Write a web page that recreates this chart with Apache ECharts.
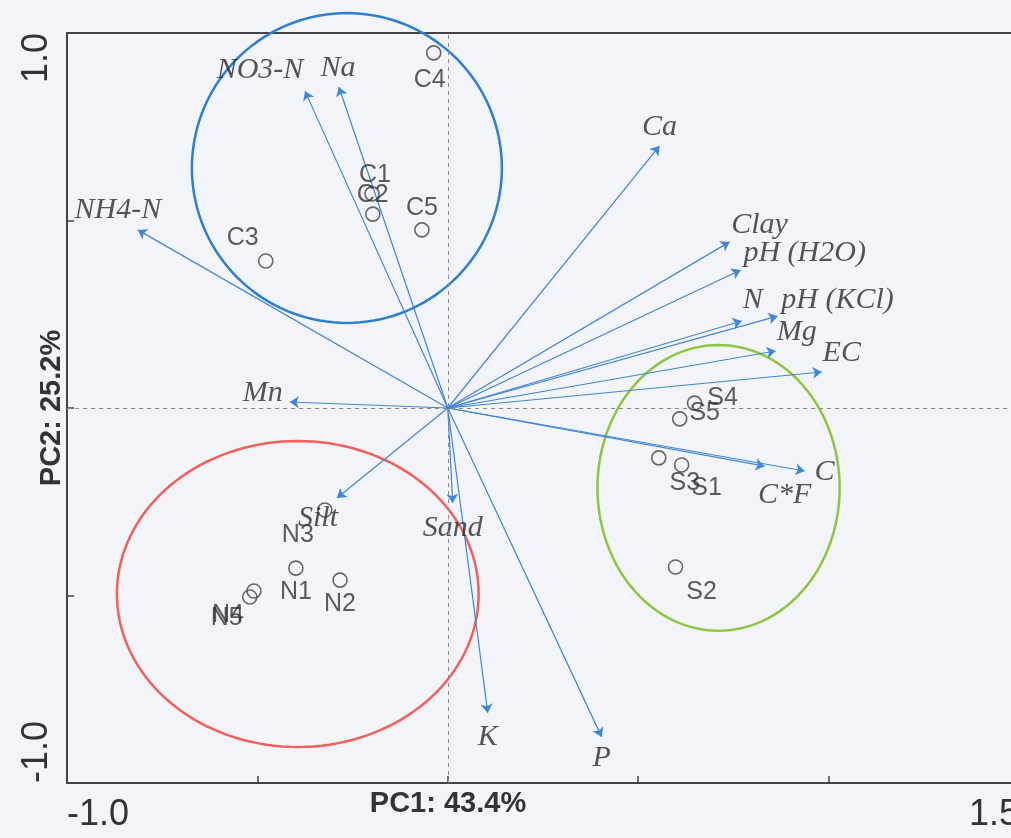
<!DOCTYPE html>
<html><head><meta charset="utf-8">
<script src="https://cdn.jsdelivr.net/npm/echarts@6/dist/echarts.min.js"></script>
<style>html,body{margin:0;padding:0;background:#f2f4f9;} #chart{width:1011px;height:838px;}</style>
</head><body><div id="chart"></div>
<script>
// ---- data ----
const sampleNames = ['C1','C2','C3','C4','C5','S1','S2','S3','S4','S5','N1','N2','N3','N4','N5'];
const samplePC1 = [-0.199,-0.197,-0.478,-0.037,-0.068,0.614,0.598,0.554,0.648,0.609,-0.399,-0.283,-0.323,-0.509,-0.520];
const samplePC2 = [0.571,0.517,0.392,0.947,0.475,-0.152,-0.424,-0.133,0.013,-0.029,-0.427,-0.459,-0.272,-0.488,-0.504];

const varNames = ['NO3-N','Na','NH4-N','Ca','Clay','pH (H2O)','N','pH (KCl)','Mg','EC','C','C*F','Mn','Silt','Sand','K','P'];
const varPC1 = [-0.375,-0.286,-0.814,0.556,0.740,0.769,0.772,0.866,0.861,0.982,0.937,0.832,-0.415,-0.291,0.013,0.105,0.404];
const varPC2 = [0.845,0.856,0.475,0.699,0.443,0.368,0.232,0.245,0.152,0.096,-0.168,-0.155,0.016,-0.240,-0.253,-0.813,-0.877];

const groupNames = ['C','N','S'];
const groupCX = [-0.265,-0.394,0.711];
const groupCY = [0.640,-0.496,-0.213];
const groupRX = [0.407,0.475,0.318];
const groupRY = [0.413,0.408,0.381];

const xTickLabels = ['-1.0','1.5'];
const yTickLabels = ['-1.0','1.0'];
const xAxisTitle = 'PC1: 43.4%';
const yAxisTitle = 'PC2: 25.2%';

// ---- styling (label offsets in px) ----
const sampleLabelOffset = {C1:[3,-19],C2:[0,-19],C3:[-23,-23],C4:[-4,27],C5:[0,-22],
  S1:[25,23],S2:[26,25],S3:[26,25],S4:[28,-5],S5:[25,-6],
  N1:[0,24],N2:[0,24],N3:[-27,25],N4:[-26,24],N5:[-23,21]};
const varLabelOffset = {'NO3-N':[-45,-21],'Na':[-1,-19],'NH4-N':[-20,-20],'Ca':[0,-19],'Clay':[30,-17],
  'pH (H2O)':[64,-17],'N':[11,-21],'pH (KCl)':[60,-16],'Mg':[21,-19],'EC':[20,-19],'C':[20,1],
  'C*F':[20,29],'Mn':[-27,-9],'Silt':[-19,20],'Sand':[0,25],'K':[0,24],'P':[0,21]};
const groupColors = {C:'#2e7fd4', N:'#f2605a', S:'#8dc63f'};

const chart = echarts.init(document.getElementById('chart'), null, {renderer:'canvas'});

const option = {
  backgroundColor:'#f2f4f9',
  animation:false,
  grid:{left:67, top:33, width:952, height:750, show:true, borderColor:'#444', borderWidth:2,
    backgroundColor:'transparent', containLabel:false, outerBoundsMode:'none'},
  xAxis:{type:'value', min:-1, max:1.5, interval:0.5,
    axisLine:{show:true, onZero:false, lineStyle:{color:'#444', width:2}},
    axisTick:{show:true, inside:true, length:7, lineStyle:{color:'#444', width:1.5}},
    splitLine:{show:false},
    axisLabel:{fontSize:36, color:'#333', fontFamily:'Liberation Sans, Arial', margin:14,
      alignMinLabel:'left', alignMaxLabel:'right',
      formatter:v=>{const s=v.toFixed(1); return xTickLabels.includes(s)?s:'';}},
    name:xAxisTitle, nameLocation:'middle', nameGap:6, nameMoveOverlap:false,
    nameTextStyle:{fontSize:29, fontWeight:'bold', color:'#333', fontFamily:'Liberation Sans, Arial',
      verticalAlign:'top', padding:[0,190,0,0]}
  },
  yAxis:{type:'value', min:-1, max:1, interval:0.5,
    axisLine:{show:true, onZero:false, lineStyle:{color:'#444', width:2}},
    axisTick:{show:true, inside:true, length:7, lineStyle:{color:'#444', width:1.5}},
    splitLine:{show:false},
    axisLabel:{fontSize:36, color:'#333', fontFamily:'Liberation Sans, Arial', margin:12, rotate:90,
      alignMinLabel:'left', alignMaxLabel:'right',
      formatter:v=>{const s=v.toFixed(1); return yTickLabels.includes(s)?s:'';}},
    name:yAxisTitle, nameLocation:'middle', nameGap:1, nameRotate:90, nameMoveOverlap:false,
    nameTextStyle:{fontSize:29, fontWeight:'bold', color:'#333', fontFamily:'Liberation Sans, Arial'}
  },
  series:[
    {type:'custom', name:'groups', clip:false, silent:true,
      data:groupNames.map((g,i)=>[groupCX[i],groupCY[i],groupRX[i],groupRY[i]]),
      encode:{x:0,y:1},
      renderItem:(params, api)=>{
        const cx=api.value(0), cy=api.value(1), rx=api.value(2), ry=api.value(3);
        const pts=[];
        for(let k=0;k<=144;k++){const t=k/144*2*Math.PI; pts.push(api.coord([cx+rx*Math.cos(t), cy+ry*Math.sin(t)]));}
        return {type:'polygon', shape:{points:pts}, style:{fill:null, stroke:groupColors[groupNames[params.dataIndex]], lineWidth:2.5}};
      }
    },
    {type:'lines', coordinateSystem:'cartesian2d', silent:true,
      data:varNames.map((n,i)=>({coords:[[0,0],[varPC1[i],varPC2[i]]]})),
      lineStyle:{color:'#3f86d9', width:1.2, opacity:1},
      symbol:['none','arrow'], symbolSize:9
    },
    {type:'scatter', name:'vars', symbolSize:0, silent:true,
      data:varNames.map((n,i)=>({name:n, value:[varPC1[i],varPC2[i]],
        label:{offset:varLabelOffset[n]}})),
      label:{show:true, position:'inside', formatter:p=>p.name, fontFamily:'Liberation Serif, Times New Roman, serif',
        fontStyle:'italic', fontSize:30, color:'#2a2a2a'}
    },
    {type:'scatter', name:'samples', symbol:'circle', symbolSize:14, silent:true,
      itemStyle:{color:'rgba(0,0,0,0)', borderColor:'#444', borderWidth:1.6},
      data:sampleNames.map((n,i)=>({name:n, value:[samplePC1[i],samplePC2[i]],
        label:{offset:sampleLabelOffset[n]}})),
      label:{show:true, position:'inside', formatter:p=>p.name, fontFamily:'Liberation Sans, Arial',
        fontSize:25, color:'#333'},
      markLine:{silent:true, symbol:'none', label:{show:false},
        lineStyle:{type:[4,4], color:'#8a8a8a', width:1},
        data:[{xAxis:0},{yAxis:0}]}
    }
  ]
};
chart.setOption(option);
</script></body></html>
